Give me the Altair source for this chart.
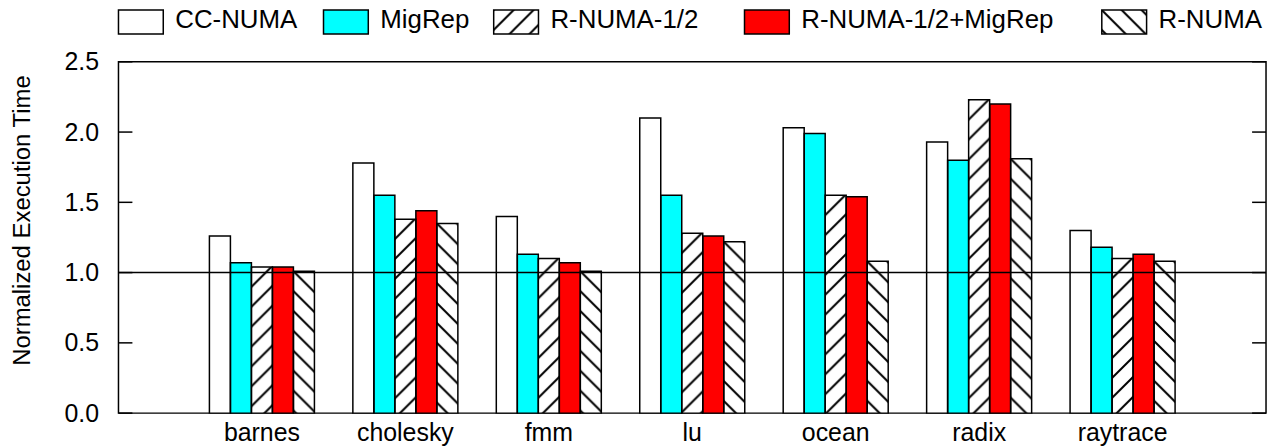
import altair as alt
import pandas as pd
from urllib.parse import quote

# ---------------- data ----------------
benchmarks = ["barnes", "cholesky", "fmm", "lu", "ocean", "radix", "raytrace"]
series = ["CC-NUMA", "MigRep", "R-NUMA-1/2", "R-NUMA-1/2+MigRep", "R-NUMA"]
cc_numa = [1.26, 1.78, 1.40, 2.10, 2.03, 1.93, 1.30]
migrep = [1.07, 1.55, 1.13, 1.55, 1.99, 1.80, 1.18]
rnuma_half = [1.04, 1.38, 1.10, 1.28, 1.55, 2.23, 1.10]
rnuma_half_migrep = [1.04, 1.44, 1.07, 1.26, 1.54, 2.20, 1.13]
rnuma = [1.01, 1.35, 1.01, 1.22, 1.08, 1.81, 1.08]
y_ticks = [0.0, 0.5, 1.0, 1.5, 2.0, 2.5]
reference_line = [1.0]

# ---------------- style / layout ----------------
W, H = 1153, 353
FONT = "Liberation Sans"
FS = 25
LEG_FS = 26
fill_colors = ["#ffffff", "#00ffff", "#ffffff", "#ff0000", "#ffffff"]
hatch_kind = ["", "", "fwd", "", "back"]
legend_x = [0, 206, 377, 629, 988]
BOX_W = 45
TICK_LEN = 14


def hatch_url(kind):
    if kind == "fwd":
        d = "M-5,5 L5,-5 M0,20 L20,0 M15,25 L25,15"
    else:
        d = "M-5,15 L5,25 M0,0 L20,20 M15,-5 L25,5"
    svg = ("<svg xmlns='http://www.w3.org/2000/svg'><defs>"
           "<pattern id='h' width='20' height='20' patternUnits='userSpaceOnUse'>"
           f"<path d='{d}' stroke='black' stroke-width='2' fill='none'/></pattern></defs>"
           "<rect width='100%' height='100%' fill='white'/>"
           "<rect width='100%' height='100%' fill='url(%23h)'/></svg>")
    return "data:image/svg+xml," + quote(svg, safe="%")


url_of = {s: (hatch_url(k) if k else "") for s, k in zip(series, hatch_kind)}

values = [cc_numa, migrep, rnuma_half, rnuma_half_migrep, rnuma]
rows = []
for s, vals in zip(series, values):
    for b, v in zip(benchmarks, vals):
        rows.append({"bench": b, "series": s, "value": v, "url": url_of[s]})
df = pd.DataFrame(rows)

legend_df = pd.DataFrame({
    "series": series,
    "lx": legend_x,
    "lx2": [x + BOX_W for x in legend_x],
    "tx": [x + BOX_W + 12 for x in legend_x],
    "url": [url_of[s] for s in series],
})

ydom = alt.Scale(domain=[0, 2.5], nice=False, zero=True)

x_enc = alt.X(
    "bench:N",
    sort=benchmarks,
    scale=alt.Scale(domain=benchmarks, paddingInner=0, paddingOuter=0.5),
    axis=alt.Axis(title=None, labelFontSize=FS, labelFont=FONT, labelColor="black",
                  ticks=False, tickSize=0, domain=False, labelPadding=28,
                  labelBaseline="alphabetic", labelAngle=0, grid=False),
)
xo_enc = alt.XOffset("series:N", sort=series,
                     scale=alt.Scale(domain=series, paddingInner=0, paddingOuter=0.915))

y_axis = alt.Axis(values=y_ticks, format=".1f", ticks=False, tickSize=0, domain=False,
                  grid=False, labelFontSize=FS, labelFont=FONT, labelColor="black",
                  labelPadding=20, title="Normalized Execution Time", titleFontSize=24,
                  titleFont=FONT, titleFontWeight="normal", titleColor="black",
                  titleAngle=-90, titleX=-96, titleY=159, titleAlign="center",
                  titleBaseline="middle")


def yq(field):
    return alt.Y(field, scale=ydom, axis=y_axis)


base = alt.Chart(df)

bars_fill = base.mark_bar(strokeWidth=0).encode(
    x=x_enc, xOffset=xo_enc,
    y=yq("value:Q"),
    fill=alt.Fill("series:N", scale=alt.Scale(domain=series, range=fill_colors), legend=None),
)

bars_hatch = base.transform_filter("datum.url != ''").mark_image(aspect=False).encode(
    x=x_enc, xOffset=xo_enc,
    y=yq("value:Q"),
    y2=alt.datum(0),
    url=alt.Url("url:N"),
)

bars_outline = base.mark_bar(fillOpacity=0, stroke="black", strokeWidth=1.5).encode(
    x=x_enc, xOffset=xo_enc,
    y=yq("value:Q"),
)

ref_rule = alt.Chart(pd.DataFrame({"value": reference_line})).mark_rule(
    color="black", strokeWidth=1.5).encode(
    y=yq("value:Q"),
    x=alt.value(0), x2=alt.value(W),
)

tick_df = pd.DataFrame({"value": y_ticks})
ticks_left = alt.Chart(tick_df).mark_rule(color="black", strokeWidth=1.5).encode(
    y=yq("value:Q"),
    x=alt.value(0), x2=alt.value(TICK_LEN),
)
ticks_right = alt.Chart(tick_df).mark_rule(color="black", strokeWidth=1.5).encode(
    y=yq("value:Q"),
    x=alt.value(W - TICK_LEN), x2=alt.value(W),
)

leg = alt.Chart(legend_df)
leg_fill = leg.mark_rect(strokeWidth=0).encode(
    x=alt.X("lx:Q", scale=None, axis=None), x2="lx2:Q",
    y=alt.value(-52), y2=alt.value(-28),
    fill=alt.Fill("series:N", scale=alt.Scale(domain=series, range=fill_colors), legend=None),
)
leg_hatch = leg.transform_filter("datum.url != ''").mark_image(aspect=False).encode(
    x=alt.X("lx:Q", scale=None, axis=None), x2="lx2:Q",
    y=alt.value(-52), y2=alt.value(-28),
    url=alt.Url("url:N"),
)
leg_outline = leg.mark_rect(fillOpacity=0, stroke="black", strokeWidth=1.5).encode(
    x=alt.X("lx:Q", scale=None, axis=None), x2="lx2:Q",
    y=alt.value(-52), y2=alt.value(-28),
)
leg_text = leg.mark_text(align="left", baseline="alphabetic", fontSize=LEG_FS, font=FONT,
                         color="black").encode(
    x=alt.X("tx:Q", scale=None, axis=None),
    y=alt.value(-33.5),
    text="series:N",
)

chart = alt.layer(
    bars_fill, bars_hatch, bars_outline, ref_rule, ticks_left, ticks_right,
    leg_fill, leg_hatch, leg_outline, leg_text,
).properties(
    width=W, height=H,
    autosize=alt.AutoSizeParams(type="none"),
    padding={"left": 111, "top": 53, "right": 5, "bottom": 36},
    background="white",
).configure_view(
    stroke="black", strokeWidth=1.5,
)

chart.save("out.html", embed_options={"renderer": "svg", "actions": False})
